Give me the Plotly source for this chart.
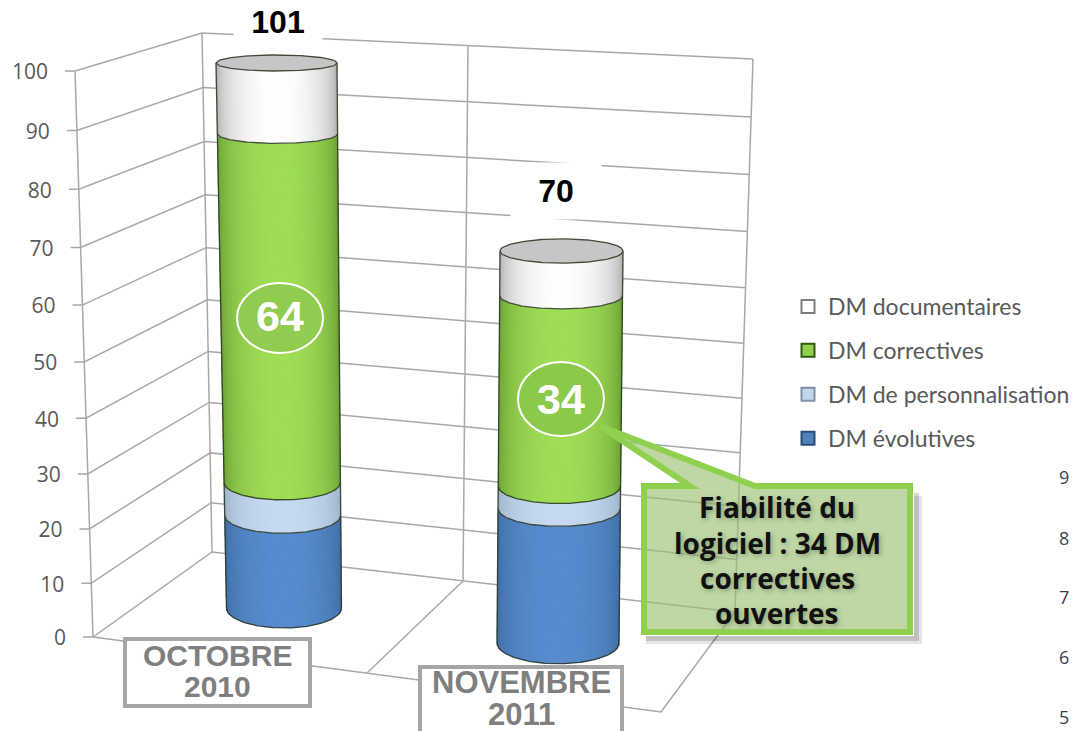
import numpy as np
import plotly.graph_objects as go

# ---- data ----
months = [["OCTOBRE", "2010"], ["NOVEMBRE", "2011"]]
evolutives = [17, 24]
personnalisation = [6, 4]
correctives = [64, 34]
documentaires = [14, 8]
totals = [101, 70]
highlight = [64, 34]
tick_values = [0, 10, 20, 30, 40, 50, 60, 70, 80, 90, 100]
axis_max = 100
legend_names = ["DM documentaires", "DM correctives", "DM de personnalisation", "DM évolutives"]
stray_ticks = ["9", "8", "7", "6", "5"]

W, H = 1072, 731
FL = ((75, 71), (93, 637))
BL = ((202, 33), (212, 552))
BM = ((468, 45), (463, 581))
BR = ((753, 59), (735, 612))
FM0 = (367, 673)
FR0 = (661, 712)
GRID = "#a8a8a8"


def frac(v):
    return v * (5.34 + 0.0032 * v) / 566.0


def wall(edge, v):
    f = frac(v)
    (xt, yt), (xb, yb) = edge
    return xb + (xt - xb) * f, yb + (yt - yb) * f


def segs(pairs):
    xs, ys = [], []
    for p in pairs:
        for q in p:
            xs.append(q[0])
            ys.append(q[1])
        xs.append(None)
        ys.append(None)
    return xs, ys


fig = go.Figure()

# walls and floor
lines = []
for v in tick_values:
    a, b, c = wall(FL, v), wall(BL, v), wall(BR, v)
    lines.append([(a[0] - 10, a[1]), a, b, c])
lines += [[FL[0], FL[1]], [BL[0], BL[1]], [BM[0], BM[1]], [BR[0], BR[1]]]
lines += [[FL[1], FM0, FR0, BR[1]], [FM0, BM[1]]]
gx, gy = segs(lines)
fig.add_trace(go.Scatter(x=gx, y=gy, mode="lines", line=dict(color=GRID, width=1.5),
                         showlegend=False, hoverinfo="skip"))

# value labels of the axis
lx = [wall(FL, v)[0] - 27 for v in tick_values]
ly = [wall(FL, v)[1] + 3 for v in tick_values]
fig.add_trace(go.Scatter(x=lx, y=ly, mode="text", text=[str(v) for v in tick_values],
                         textposition="middle left",
                         textfont=dict(family="Open Sans", size=21, color="#595959"),
                         showlegend=False, hoverinfo="skip"))

# legend entries
swatches = [("#ffffff", "#7f7f7f"), ("#92d050", "#2f5a12"), ("#c3d5ec", "#7f8ea3"), ("#4f81bd", "#2c4d75")]
for name, (col, edge) in zip(legend_names, swatches):
    fig.add_trace(go.Scatter(x=[None], y=[None], mode="markers", name=name, legendgroup=name,
                             marker=dict(symbol="square", size=13, color=col, line=dict(color=edge, width=2))))

# cylinders
base_px = [608, 643]
scale_px = [5.45, 5.6]
center_fit = [(284, -0.075), (558, 0.05)]
radius_fit = [(57.5, 0.03), (61, 0.007)]
palette = [
    ((60, 104, 160), (88, 140, 206)),    # evolutives
    ((150, 170, 195), (198, 218, 241)),  # personnalisation
    ((98, 150, 48), (160, 222, 86)),     # correctives
    ((165, 165, 165), (255, 255, 255)),  # documentaires
]
N = 80
SLICE = 3.0
OVERLAP = 0.4
us = (np.arange(N) + 0.5) / N * 2 - 1
sq = np.sqrt(1 - us ** 2)
OUT = "#26331f"


def mix(c0, c1, t):
    return "rgb(%d,%d,%d)" % tuple(int(a + (b - a) * t) for a, b in zip(c0, c1))


for i in range(2):
    axis = "y%d" % (i + 2)
    b0, s = base_px[i], scale_px[i]
    c0, c1 = center_fit[i]
    r0, r1 = radius_fit[i]
    cx = lambda v: c0 + c1 * v
    rad = lambda v: r0 + r1 * v
    hh = lambda v: (8 + 12 * (b0 - v * s - 63) / 545.0) / s
    stack = [evolutives[i], personnalisation[i], correctives[i], documentaires[i]]
    edges = np.minimum(np.concatenate([[0], np.cumsum(stack)]), axis_max)
    for k in range(4):
        lo, hi = edges[k], edges[k + 1]
        n = max(1, int(round((hi - lo) / SLICE)))
        cuts = np.linspace(lo, hi, n + 1)
        xs, bases, heights, widths, cols = [], [], [], [], []
        strip_cols = [mix(palette[k][0], palette[k][1], t) for t in sq]
        for j, (a, b) in enumerate(zip(cuts[:-1], cuts[1:])):
            m = (a + b) / 2
            ba = a - hh(a) * sq - (OVERLAP if j > 0 else 0)
            tb = b - hh(b) * sq
            xs.extend(cx(m) + rad(m) * us)
            bases.extend(ba)
            heights.extend(tb - ba)
            widths.extend([2 * rad(m) / N * 1.5] * N)
            cols.extend(strip_cols)
        fig.add_trace(go.Bar(x=xs, y=heights, base=bases, yaxis=axis, width=widths,
                             marker=dict(color=cols, line=dict(width=0)),
                             showlegend=False, hoverinfo="skip"))
    # top cap
    vt = edges[-1]
    fig.add_trace(go.Bar(x=cx(vt) + rad(vt) * us, y=2 * hh(vt) * sq, base=vt - hh(vt) * sq, yaxis=axis,
                         width=2 * rad(vt) / N * 1.5, marker=dict(color="#c6c6c6", line=dict(width=0)),
                         showlegend=False, hoverinfo="skip"))
    # outlines
    t = np.linspace(-1, 1, 81)
    arc = np.sqrt(1 - t ** 2)
    parts = []
    for v in edges:
        parts.append(list(zip(cx(v) + rad(v) * t, v - hh(v) * arc)))
    parts.append(list(zip(cx(vt) + rad(vt) * t, vt + hh(vt) * arc)))
    parts.append([(cx(0) - rad(0), 0), (cx(vt) - rad(vt), vt)])
    parts.append([(cx(0) + rad(0), 0), (cx(vt) + rad(vt), vt)])
    ox, oy = segs(parts)
    fig.add_trace(go.Scatter(x=ox, y=oy, yaxis=axis, mode="lines", line=dict(color=OUT, width=1.3),
                             opacity=0.85, showlegend=False, hoverinfo="skip"))

shapes = []
# callout
tail = "M 644 486 L 690 486 L 600 426 L 755 486 L 910 486 L 910 632 L 644 632 Z"
for d, op in [(8, 0.10), (5, 0.16)]:
    shadow = "M 914 %d L %d %d L %d %d L 646 %d L 646 636 L 914 636 Z" % (488 + d, 914 + d, 488 + d, 914 + d, 636 + d, 636 + d)
    shapes.append(dict(type="path", path=shadow, line=dict(width=0),
                       fillcolor="rgba(0,0,0,%.2f)" % op, layer="above"))
shapes.append(dict(type="path", path=tail, fillcolor="rgba(150,190,110,0.62)",
                   line=dict(color="#8fd14f", width=6), layer="above"))
# circles
shapes.append(dict(type="circle", x0=237, x1=323, y0=283, y1=353, fillcolor="#8fcc50",
                   line=dict(color="white", width=2), layer="above"))
shapes.append(dict(type="circle", x0=518, x1=604, y0=362, y1=436, fillcolor="#8bc94b",
                   line=dict(color="white", width=2), layer="above"))
# month boxes
shapes.append(dict(type="rect", x0=125, x1=310, y0=639, y1=706, fillcolor="white",
                   line=dict(color="#a6a6a6", width=4), layer="above"))
shapes.append(dict(type="rect", x0=420, x1=622, y0=667, y1=745, fillcolor="white",
                   line=dict(color="#a6a6a6", width=4), layer="above"))

ann = []
ARIAL = "Liberation Sans"
for (xc, yc, w, h), tot in zip([(278, 22, 86, 36), (556, 191, 88, 54)], totals):
    ann.append(dict(x=xc, y=yc, text="<b>%d</b>" % tot, showarrow=False, width=w, height=h, bgcolor="white",
                    font=dict(family=ARIAL, size=32, color="black"), xanchor="center", yanchor="middle"))
for (xc, yc), val in zip([(280, 316), (561, 399)], highlight):
    ann.append(dict(x=xc, y=yc, text="<b>%d</b>" % val, showarrow=False,
                    font=dict(family=ARIAL, size=43, color="white"), xanchor="center", yanchor="middle"))
for (xc, ys, size), m in zip([(217, (655, 686), 30), (521, (682, 714), 31)], months):
    for yc, line in zip(ys, m):
        ann.append(dict(x=xc, y=yc, text="<b>%s</b>" % line, showarrow=False,
                        font=dict(family=ARIAL, size=size, color="#7f7f7f"), xanchor="center", yanchor="middle"))
for yc, txt in zip([507, 543, 578, 613], ["Fiabilité du", "logiciel : 34 DM", "correctives", "ouvertes"]):
    ann.append(dict(x=777, y=yc, text="<b>%s</b>" % txt, showarrow=False,
                    font=dict(family="Open Sans", size=28, color="#111111", shadow="2px 2px 4px #66775588"),
                    xanchor="center", yanchor="middle"))
for yc, txt in zip([477, 538, 597, 657, 717], stray_ticks):
    ann.append(dict(x=1071, y=yc, text=txt, showarrow=False, font=dict(family="Open Sans", size=18, color="#404050"),
                    xanchor="right", yanchor="middle"))

ycommon = dict(visible=False, overlaying="y", fixedrange=True)
fig.update_layout(
    width=W, height=H, margin=dict(l=0, r=0, t=0, b=0, autoexpand=False), autosize=False,
    paper_bgcolor="white", plot_bgcolor="white", barmode="overlay",
    xaxis=dict(range=[0, W], visible=False, fixedrange=True, domain=[0, 1]),
    yaxis=dict(range=[H, 0], visible=False, fixedrange=True, domain=[0, 1]),
    yaxis2=dict(range=[(base_px[0] - H) / scale_px[0], base_px[0] / scale_px[0]], **ycommon),
    yaxis3=dict(range=[(base_px[1] - H) / scale_px[1], base_px[1] / scale_px[1]], **ycommon),
    legend=dict(x=788 / W, y=1 - 285 / H, xanchor="left", yanchor="top", tracegroupgap=11,
                font=dict(family="Lato", size=23, color="#595959"), bgcolor="rgba(0,0,0,0)"),
    shapes=shapes, annotations=ann,
)
fig.write_html("out.html", config=dict(displayModeBar=False),
               post_script="document.body.style.margin='0';document.body.style.overflow='hidden';")
